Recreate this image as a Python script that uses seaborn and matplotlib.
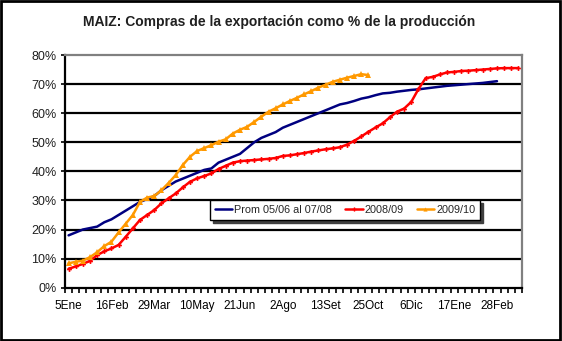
import numpy as np
import pandas as pd
import matplotlib
matplotlib.use("Agg")
import matplotlib.pyplot as plt
import seaborn as sns
from matplotlib.patches import Rectangle

title = "MAIZ: Compras de la exportación como % de la producción"
tick_labels = ["5Ene", "16Feb", "29Mar", "10May", "21Jun", "2Ago", "13Set",
               "25Oct", "6Dic", "17Ene", "28Feb"]
n_weeks = 64

prom = [18, 19, 20, 20.5, 21, 22.5, 23.5, 25, 26.5, 28, 29.5, 30.5, 31.5, 33.5,
        35, 36.5, 37.5, 38.5, 39.5, 40.5, 41, 43, 44, 45, 46, 48, 50, 51.5, 52.5,
        53.5, 55, 56, 57, 58, 59, 60, 61, 62, 63, 63.5, 64.2, 65, 65.5, 66.2,
        66.8, 67, 67.4, 67.7, 68, 68.2, 68.5, 68.8, 69.1, 69.4, 69.6, 69.8, 70,
        70.2, 70.4, 70.7, 71]
s0809 = [6.5, 7.3, 8.2, 9.2, 11.2, 12.5, 13.5, 14.7, 17.5, 20.4, 23.3, 25, 26.7,
         29, 30.7, 32.4, 34.5, 36.4, 37.6, 38.4, 39.3, 40.8, 41.9, 43, 43.5, 43.7,
         43.9, 44.1, 44.3, 44.6, 45.3, 45.5, 45.9, 46.3, 46.8, 47.2, 47.6, 47.9,
         48.3, 49.2, 50.5, 52, 53.6, 55.1, 56.5, 58.6, 60.5, 61.6, 63.9, 68.3,
         72, 72.5, 73.3, 74, 74.2, 74.5, 74.6, 74.8, 75.0, 75.2, 75.4, 75.5,
         75.5, 75.5]
s0910 = [8.4, 8.9, 9.3, 10.5, 12.2, 14.3, 15.8, 19, 22, 25, 29.5, 31, 31.5, 33.5,
         36, 38.7, 42.2, 45, 47, 48, 49, 50.2, 51, 53, 54.3, 55.3, 57, 58.8, 60.5,
         61.7, 63, 64.2, 65.3, 66.5, 67.6, 68.8, 69.8, 70.8, 71.5, 72.2, 72.8,
         73.4, 73.1]

series_names = ["Prom 05/06 al 07/08", "2008/09", "2009/10"]
series_vals = [prom, s0809, s0910]
colors = ["#000080", "#FF0000", "#FF9900"]
markers = [None, "P", "^"]

frames = []
for name, vals in zip(series_names, series_vals):
    frames.append(pd.DataFrame({"week": np.arange(len(vals)),
                                "pct": vals, "serie": name}))
df = pd.concat(frames, ignore_index=True)

sns.set_theme(style="white")
plt.rcParams['font.family'] = ['Liberation Sans', 'DejaVu Sans']

fig = plt.figure(figsize=(5.62, 3.41), dpi=100)
ax = fig.add_axes([0.1157, 0.1563, 0.8131, 0.6824])

for name, col, mk in zip(series_names, colors, markers):
    sub = df[df["serie"] == name]
    kw = dict(color=col, linewidth=1.8, ax=ax, label=name)
    if mk is not None:
        kw.update(marker=mk, markersize=3.5 if mk == "P" else 4.5,
                  markeredgewidth=0, markerfacecolor=col)
    sns.lineplot(data=sub, x="week", y="pct", **kw)

ax.set_xlim(-0.5, n_weeks - 0.5)
ax.set_ylim(0, 80)
ax.set_yticks(np.arange(0, 81, 10))
ax.set_yticklabels([f"{v}%" for v in range(0, 81, 10)], fontsize=9)
ax.set_xticks(np.arange(0, 61, 6))
ax.set_xticklabels(tick_labels, fontsize=8.5)
ax.set_xticks(np.arange(-0.5, n_weeks, 1), minor=True)
ax.tick_params(axis="x", which="major", length=0, pad=9, colors="black")
ax.tick_params(axis="x", which="minor", length=3.5, width=1.2, direction="out",
               color="black", bottom=True)
ax.tick_params(axis="y", which="major", length=3, width=1.2, direction="out",
               color="black", left=True, pad=3, colors="#202020")
ax.set_xlabel("")
ax.set_ylabel("")

for v in range(10, 80, 10):
    ax.axhline(v, color="black", linewidth=1.6, zorder=0.5)

for side in ["left", "bottom"]:
    ax.spines[side].set_color("black")
    ax.spines[side].set_linewidth(1.6)
for side in ["top", "right"]:
    ax.spines[side].set_color("#808080")
    ax.spines[side].set_linewidth(1.6)

leg = ax.legend(loc="center", bbox_to_anchor=(0.613, 0.334),
                ncol=3, fontsize=7.8, frameon=True, fancybox=False,
                shadow={"color": "#404040", "alpha": 1}, handlelength=1.6,
                handletextpad=0.2, columnspacing=1.2, borderpad=0.45,
                borderaxespad=0)
leg.get_frame().set_edgecolor("black")
leg.get_frame().set_linewidth(1.0)
for h in leg.legend_handles:
    h.set_markersize(3)

fig.text(0.497, 0.935, title, ha="center", va="center", fontsize=10,
         fontweight="bold", color="#202020")

fig.patches.append(Rectangle((0.002, 0.004), 0.994, 0.992, transform=fig.transFigure,
                             fill=False, edgecolor="black", linewidth=2))

fig.savefig("out.png", dpi=100)
